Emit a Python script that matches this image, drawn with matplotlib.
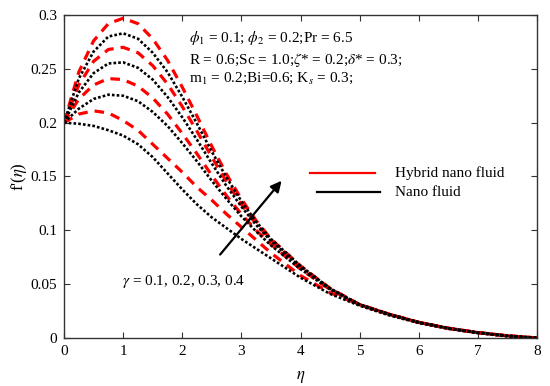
import numpy as np
import matplotlib
matplotlib.use("Agg")
import matplotlib.pyplot as plt

# Dati: f'(eta) per gamma = 0.1, 0.2, 0.3, 0.4
eta = [0, 0.25, 0.5, 0.75, 1.0, 1.25, 1.5, 1.75, 2.0, 2.25, 2.5, 2.75, 3.0,
       3.25, 3.5, 4.0, 4.5, 5.0, 5.5, 6.0, 6.5, 7.0, 7.5, 8.0]

nano_g1 = [0.200, 0.199, 0.197, 0.193, 0.188, 0.180, 0.168, 0.153, 0.138, 0.124, 0.112, 0.102,
           0.092, 0.083, 0.074, 0.056, 0.041, 0.030, 0.021, 0.014, 0.0085, 0.0045, 0.0015, 0.0]
nano_g2 = [0.200, 0.213, 0.222, 0.226, 0.225, 0.220, 0.210, 0.197, 0.181, 0.164, 0.146, 0.129,
           0.113, 0.099, 0.086, 0.064, 0.045, 0.031, 0.022, 0.0145, 0.009, 0.005, 0.002, 0.0]
nano_g3 = [0.200, 0.228, 0.246, 0.255, 0.256, 0.251, 0.240, 0.224, 0.205, 0.184, 0.162, 0.141,
           0.122, 0.105, 0.090, 0.066, 0.046, 0.031, 0.022, 0.0145, 0.009, 0.005, 0.002, 0.0]
nano_g4 = [0.200, 0.241, 0.266, 0.280, 0.283, 0.278, 0.265, 0.247, 0.224, 0.199, 0.173, 0.149,
           0.127, 0.108, 0.092, 0.067, 0.046, 0.031, 0.022, 0.0145, 0.009, 0.005, 0.002, 0.0]

hybrid_g1 = [0.200, 0.208, 0.211, 0.209, 0.202, 0.193, 0.180, 0.167, 0.154, 0.140, 0.128, 0.115,
             0.103, 0.091, 0.079, 0.058, 0.042, 0.031, 0.022, 0.0145, 0.009, 0.005, 0.002, 0.0]
hybrid_g2 = [0.200, 0.222, 0.235, 0.241, 0.240, 0.234, 0.223, 0.208, 0.190, 0.171, 0.151, 0.132,
             0.115, 0.100, 0.087, 0.064, 0.045, 0.031, 0.022, 0.0145, 0.009, 0.005, 0.002, 0.0]
hybrid_g3 = [0.200, 0.235, 0.257, 0.268, 0.270, 0.265, 0.253, 0.236, 0.215, 0.192, 0.168, 0.145,
             0.124, 0.106, 0.091, 0.066, 0.046, 0.031, 0.022, 0.0145, 0.009, 0.005, 0.002, 0.0]
hybrid_g4 = [0.200, 0.247, 0.276, 0.292, 0.297, 0.292, 0.278, 0.258, 0.233, 0.206, 0.178, 0.152,
             0.129, 0.109, 0.092, 0.067, 0.046, 0.031, 0.022, 0.0145, 0.009, 0.005, 0.002, 0.0]

nano = [nano_g1, nano_g2, nano_g3, nano_g4]
hybrid = [hybrid_g1, hybrid_g2, hybrid_g3, hybrid_g4]

plt.rcParams['font.family'] = ['Liberation Serif', 'DejaVu Serif']
plt.rcParams['mathtext.fontset'] = 'stix'

fig = plt.figure(figsize=(5.5, 3.86), dpi=100)
ax = fig.add_axes([0.1164, 0.1244, 0.86, 0.8367])

for h in hybrid:
    ax.plot(eta, h, color='red', lw=2.3, linestyle=(0, (3, 2.2)))
for n in nano:
    ax.plot(eta, n, color='black', lw=1.9, linestyle=(0, (1, 0.8)))

ax.set_xlim(0, 8)
ax.set_ylim(0, 0.3)
ax.set_xticks(range(0, 9))
ax.set_yticks([0, 0.05, 0.1, 0.15, 0.2, 0.25, 0.3])
ax.set_yticklabels(['0', '0.05', '0.1', '0.15', '0.2', '0.25', '0.3'])
ax.tick_params(direction='in', top=True, right=True, labelsize=11, length=4,
               colors='#333333', pad=5)
ax.tick_params(labelcolor='black')
for s in ax.spines.values():
    s.set_color('#333333')
    s.set_linewidth(1.0)

ax.set_xlabel(r'$\eta$', fontsize=12, labelpad=8)
ax.set_ylabel(r"f'($\eta$)", fontsize=12, labelpad=1)

# testo dei parametri
fs = 11
ax.text(2.12, 0.2786, r'$\phi_1$ = 0.1; $\phi_2$ = 0.2;Pr = 6.5', fontsize=fs, va='center')
ax.text(2.12, 0.2585, r'R = 0.6;Sc = 1.0;$\zeta$* = 0.2;$\delta$* = 0.3;', fontsize=fs, va='center')
ax.text(2.12, 0.2410, r'm$_1$ = 0.2;Bi=0.6; K$_s$ = 0.3;', fontsize=fs, va='center')
ax.text(0.98, 0.0525, r'$\gamma$ = 0.1, 0.2, 0.3, 0.4', fontsize=fs, va='center')

ax.annotate('', xy=(3.71, 0.148), xytext=(2.61, 0.0755),
            arrowprops=dict(arrowstyle='-|>', color='black', lw=1.6, mutation_scale=16))

# legenda fatta a mano
ax.plot([4.16, 5.26], [0.1535, 0.1535], color='red', lw=1.6)
ax.plot([4.28, 5.34], [0.1355, 0.1355], color='black', lw=1.6)
ax.text(5.6, 0.1535, 'Hybrid nano fluid', fontsize=fs, va='center')
ax.text(5.6, 0.1355, 'Nano fluid', fontsize=fs, va='center')

fig.savefig('out.png', dpi=100)
